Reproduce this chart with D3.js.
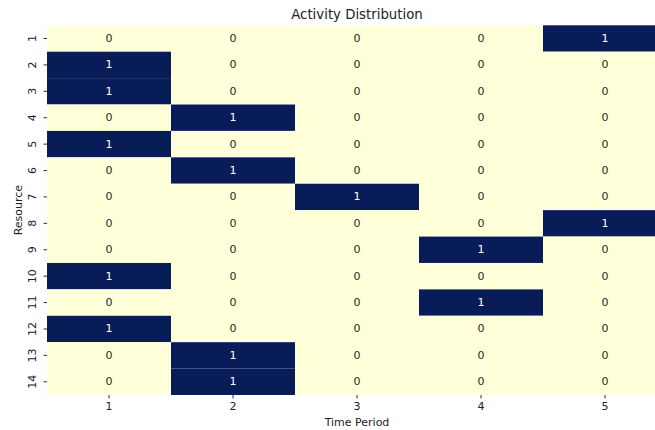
<!DOCTYPE html>
<html>
<head>
<meta charset="utf-8">
<script src="https://cdn.jsdelivr.net/npm/d3@7"></script>
<style>
  html, body { margin: 0; padding: 0; background: #fff; }
  svg { display: block; font-family: "DejaVu Sans", sans-serif; }
</style>
</head>
<body>
<svg id="chart" width="655" height="430"></svg>
<script>
// Resources (rows) and time periods (columns)
const resources = [1, 2, 3, 4, 5, 6, 7, 8, 9, 10, 11, 12, 13, 14];
const periods = [1, 2, 3, 4, 5];

// Activity per resource, one array per time period
const period1 = [0, 1, 1, 0, 1, 0, 0, 0, 0, 1, 0, 1, 0, 0];
const period2 = [0, 0, 0, 1, 0, 1, 0, 0, 0, 0, 0, 0, 1, 1];
const period3 = [0, 0, 0, 0, 0, 0, 1, 0, 0, 0, 0, 0, 0, 0];
const period4 = [0, 0, 0, 0, 0, 0, 0, 0, 1, 0, 1, 0, 0, 0];
const period5 = [1, 0, 0, 0, 0, 0, 0, 1, 0, 0, 0, 0, 0, 0];
const periodValues = [period1, period2, period3, period4, period5];

const margin = { left: 47, top: 25.3, width: 620, height: 369.7 };
const tickFont = 11;

const svg = d3.select("#chart");

const x = d3.scaleBand().domain(periods).range([margin.left, margin.left + margin.width]);
const y = d3.scaleBand().domain(resources).range([margin.top, margin.top + margin.height]);
const color = d3.scaleLinear().domain([0, 1]).range(["#ffffd9", "#081d58"]);

const cells = [];
periods.forEach((p, j) => {
  resources.forEach((r, i) => {
    cells.push({ period: p, resource: r, value: periodValues[j][i] });
  });
});

const g = svg.append("g");
g.selectAll("rect")
  .data(cells)
  .join("rect")
  .attr("x", d => x(d.period))
  .attr("y", d => y(d.resource))
  .attr("width", x.bandwidth())
  .attr("height", y.bandwidth())
  .attr("fill", d => color(d.value));

g.selectAll("text.annot")
  .data(cells)
  .join("text")
  .attr("class", "annot")
  .attr("x", d => x(d.period) + x.bandwidth() / 2)
  .attr("y", d => y(d.resource) + y.bandwidth() / 2)
  .attr("text-anchor", "middle")
  .attr("dominant-baseline", "central")
  .attr("font-size", tickFont)
  .attr("fill", d => d.value > 0.5 ? "#ffffff" : "#262626")
  .text(d => d.value);

// Axes
const xAxis = d3.axisBottom(x).tickSize(3.5).tickPadding(3.5);
const yAxis = d3.axisLeft(y).tickSize(3.5).tickPadding(3.5);

const xg = svg.append("g")
  .attr("transform", `translate(0,${margin.top + margin.height})`)
  .call(xAxis);
xg.select(".domain").remove();
xg.selectAll("line").attr("stroke", "#333");
xg.selectAll("text").attr("font-size", tickFont).attr("fill", "#222").attr("font-family", "DejaVu Sans");

const yg = svg.append("g")
  .attr("transform", `translate(${margin.left},0)`)
  .call(yAxis);
yg.select(".domain").remove();
yg.selectAll("line").attr("stroke", "#333");
yg.selectAll("text")
  .attr("font-size", tickFont)
  .attr("fill", "#222")
  .attr("font-family", "DejaVu Sans")
  .attr("text-anchor", "middle")
  .attr("dy", null)
  .attr("dominant-baseline", "central")
  .attr("x", 0)
  .attr("y", 0)
  .attr("transform", "translate(-14.5,0) rotate(-90)");

// Title and axis labels
svg.append("text")
  .attr("x", margin.left + margin.width / 2)
  .attr("y", 19)
  .attr("text-anchor", "middle")
  .attr("font-size", 13.3)
  .attr("fill", "#222")
  .text("Activity Distribution");

svg.append("text")
  .attr("x", margin.left + margin.width / 2)
  .attr("y", 426)
  .attr("text-anchor", "middle")
  .attr("font-size", tickFont)
  .attr("fill", "#222")
  .text("Time Period");

svg.append("text")
  .attr("transform", `translate(21.5,${margin.top + margin.height / 2}) rotate(-90)`)
  .attr("text-anchor", "middle")
  .attr("font-size", tickFont)
  .attr("fill", "#222")
  .text("Resource");
</script>
</body>
</html>
